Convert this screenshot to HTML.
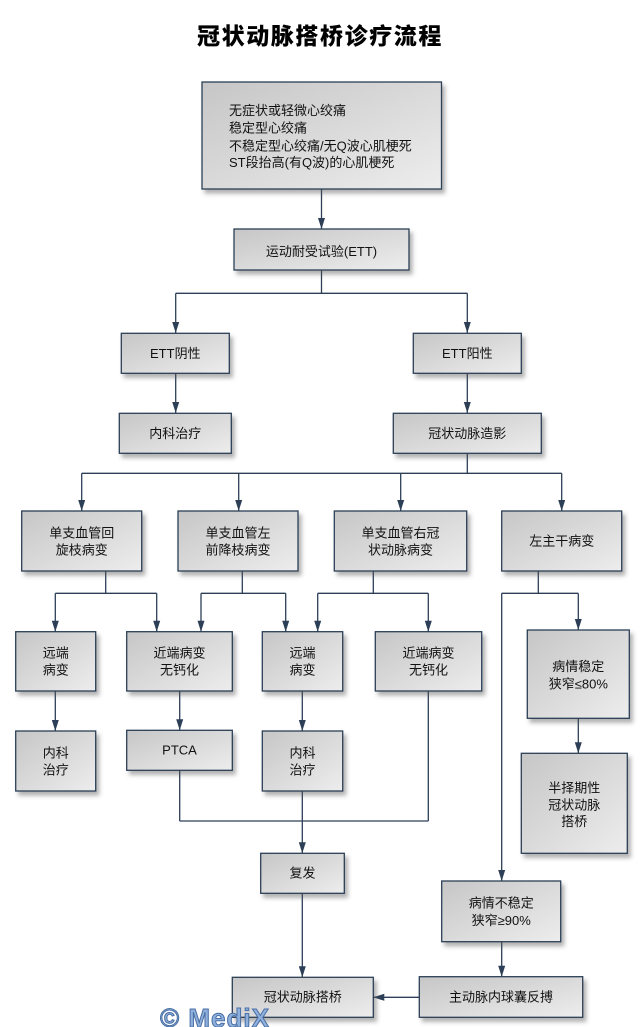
<!DOCTYPE html>
<html><head><meta charset="utf-8">
<style>
html,body{margin:0;padding:0;background:#fff;}
svg{display:block;}
.t{font-family:"Liberation Sans","Noto Sans CJK SC",sans-serif;font-size:13px;fill:#111;}
.c{text-anchor:middle;}
</style></head>
<body>
<svg width="642" height="1027" viewBox="0 0 642 1027" xmlns="http://www.w3.org/2000/svg">
<defs>
<linearGradient id="g" x1="0" y1="0" x2="1" y2="1">
<stop offset="0" stop-color="#c6c6c6"/>
<stop offset="1" stop-color="#ededed"/>
</linearGradient>
<filter id="sh" x="-10%" y="-10%" width="130%" height="140%">
<feDropShadow dx="3" dy="4" stdDeviation="2" flood-color="#555" flood-opacity="0.45"/>
</filter>
</defs>

<text x="320" y="44" text-anchor="middle" style="font-family:'Noto Sans CJK SC','WenQuanYi Zen Hei',sans-serif;font-size:23px;font-weight:900;letter-spacing:1.6px;fill:#000;">冠状动脉搭桥诊疗流程</text>

<g stroke="#2c3f57" stroke-width="1.3" fill="none">
<line x1="321.5" y1="189" x2="321.5" y2="229"/>
<line x1="321.5" y1="270" x2="321.5" y2="293.3"/>
<line x1="175.7" y1="293.3" x2="467.3" y2="293.3"/>
<line x1="175.7" y1="293.3" x2="175.7" y2="333"/>
<line x1="467.3" y1="293.3" x2="467.3" y2="333"/>
<line x1="175.7" y1="373" x2="175.7" y2="413"/>
<line x1="467.3" y1="373" x2="467.3" y2="413"/>
<line x1="467.3" y1="453" x2="467.3" y2="473.3"/>
<line x1="81.7" y1="473.3" x2="561.7" y2="473.3"/>
<line x1="81.7" y1="473.3" x2="81.7" y2="511"/>
<line x1="238.7" y1="473.3" x2="238.7" y2="511"/>
<line x1="400.7" y1="473.3" x2="400.7" y2="511"/>
<line x1="561.7" y1="473.3" x2="561.7" y2="511"/>
<line x1="105.7" y1="571" x2="105.7" y2="593.3"/>
<line x1="55.3" y1="593.3" x2="156.7" y2="593.3"/>
<line x1="55.3" y1="593.3" x2="55.3" y2="631.7"/>
<line x1="156.7" y1="593.3" x2="156.7" y2="631.7"/>
<line x1="242.3" y1="571" x2="242.3" y2="593.3"/>
<line x1="201" y1="593.3" x2="285.7" y2="593.3"/>
<line x1="201" y1="593.3" x2="201" y2="631.7"/>
<line x1="285.7" y1="593.3" x2="285.7" y2="631.7"/>
<line x1="373.3" y1="571" x2="373.3" y2="593.3"/>
<line x1="317.7" y1="593.3" x2="428.3" y2="593.3"/>
<line x1="317.7" y1="593.3" x2="317.7" y2="631.7"/>
<line x1="428.3" y1="593.3" x2="428.3" y2="631.7"/>
<line x1="538.3" y1="571" x2="538.3" y2="593.3"/>
<line x1="501.7" y1="593.3" x2="578.3" y2="593.3"/>
<line x1="578.3" y1="593.3" x2="578.3" y2="630"/>
<line x1="501.7" y1="593.3" x2="501.7" y2="881"/>
<line x1="55.3" y1="691" x2="55.3" y2="731"/>
<line x1="179.7" y1="691" x2="179.7" y2="730.3"/>
<line x1="302.3" y1="691" x2="302.3" y2="731"/>
<line x1="179.7" y1="770" x2="179.7" y2="821"/>
<line x1="179.7" y1="821" x2="428.3" y2="821"/>
<line x1="428.3" y1="691" x2="428.3" y2="821"/>
<line x1="302.3" y1="791" x2="302.3" y2="853.3"/>
<line x1="302.3" y1="893.3" x2="302.3" y2="977.3"/>
<line x1="578.3" y1="718.3" x2="578.3" y2="753.3"/>
<line x1="501.7" y1="941.7" x2="501.7" y2="976.7"/>
<line x1="419.3" y1="997.3" x2="373.3" y2="997.3"/>
</g>

<g fill="#2c3f57">
<polygon points="318,218 325,218 321.5,229"/>
<polygon points="172.2,322 179.2,322 175.7,333"/>
<polygon points="463.8,322 470.8,322 467.3,333"/>
<polygon points="172.2,402 179.2,402 175.7,413"/>
<polygon points="463.8,402 470.8,402 467.3,413"/>
<polygon points="78.2,500 85.2,500 81.7,511"/>
<polygon points="235.2,500 242.2,500 238.7,511"/>
<polygon points="397.2,500 404.2,500 400.7,511"/>
<polygon points="558.2,500 565.2,500 561.7,511"/>
<polygon points="51.8,620.7 58.8,620.7 55.3,631.7"/>
<polygon points="153.2,620.7 160.2,620.7 156.7,631.7"/>
<polygon points="197.5,620.7 204.5,620.7 201,631.7"/>
<polygon points="282.2,620.7 289.2,620.7 285.7,631.7"/>
<polygon points="314.2,620.7 321.2,620.7 317.7,631.7"/>
<polygon points="424.8,620.7 431.8,620.7 428.3,631.7"/>
<polygon points="574.8,619 581.8,619 578.3,630"/>
<polygon points="51.8,720 58.8,720 55.3,731"/>
<polygon points="176.2,719.3 183.2,719.3 179.7,730.3"/>
<polygon points="298.8,720 305.8,720 302.3,731"/>
<polygon points="298.8,842.3 305.8,842.3 302.3,853.3"/>
<polygon points="298.8,966.3 305.8,966.3 302.3,977.3"/>
<polygon points="574.8,742.3 581.8,742.3 578.3,753.3"/>
<polygon points="498.2,870 505.2,870 501.7,881"/>
<polygon points="498.2,965.7 505.2,965.7 501.7,976.7"/>
<polygon points="384.3,993.8 384.3,1000.8 373.3,997.3"/>
</g>

<g fill="url(#g)" stroke="#2c3f57" stroke-width="1.3" filter="url(#sh)">
<rect x="202" y="82" width="239.5" height="107"/>
<rect x="234" y="229" width="175" height="41"/>
<rect x="121.3" y="333.3" width="108" height="40"/>
<rect x="413.3" y="333.3" width="108" height="40"/>
<rect x="119.3" y="413.3" width="112" height="40"/>
<rect x="393.3" y="413.3" width="148" height="40"/>
<rect x="21.7" y="511" width="120" height="60"/>
<rect x="178" y="511" width="120" height="60"/>
<rect x="334.3" y="511" width="132.4" height="60"/>
<rect x="501.7" y="511" width="120" height="60"/>
<rect x="15.7" y="631.7" width="80" height="59.3"/>
<rect x="126.7" y="631.7" width="105.6" height="59.3"/>
<rect x="262.3" y="631.7" width="80.4" height="59.3"/>
<rect x="375.3" y="631.7" width="106.4" height="59.3"/>
<rect x="527.3" y="630" width="102" height="88.3"/>
<rect x="15.7" y="731" width="80" height="60"/>
<rect x="126.7" y="730.3" width="105.6" height="40"/>
<rect x="262.3" y="731" width="80.4" height="60"/>
<rect x="521.3" y="753.3" width="106" height="100"/>
<rect x="260.7" y="853.3" width="83.6" height="40"/>
<rect x="441.7" y="881" width="119" height="60.7"/>
<rect x="232.3" y="977.3" width="141" height="40"/>
<rect x="419.3" y="976.7" width="163.4" height="40.6"/>
</g>

<g class="t">
<text x="229" y="115">无症状或轻微心绞痛</text>
<text x="229" y="132.5">稳定型心绞痛</text>
<text x="229" y="150.5">不稳定型心绞痛/无Q波心肌梗死</text>
<text x="229" y="167">ST段抬高(有Q波)的心肌梗死</text>
</g>
<g class="t c">
<text x="321.5" y="256">运动耐受试验(ETT)</text>
<text x="175.3" y="358">ETT阴性</text>
<text x="467.3" y="358">ETT阳性</text>
<text x="175.3" y="438">内科治疗</text>
<text x="467.3" y="438">冠状动脉造影</text>

<text x="81.7" y="537.5">单支血管回</text>
<text x="81.7" y="554.5">旋枝病变</text>
<text x="238" y="537.5">单支血管左</text>
<text x="238" y="554.5">前降枝病变</text>
<text x="400.5" y="537.5">单支血管右冠</text>
<text x="400.5" y="554.5">状动脉病变</text>
<text x="561.7" y="545.5">左主干病变</text>

<text x="55.7" y="657.5">远端</text>
<text x="55.7" y="674.5">病变</text>
<text x="179.5" y="657.5">近端病变</text>
<text x="179.5" y="674.5">无钙化</text>
<text x="302.5" y="657.5">远端</text>
<text x="302.5" y="674.5">病变</text>
<text x="428.5" y="657.5">近端病变</text>
<text x="428.5" y="674.5">无钙化</text>
<text x="578.3" y="671">病情稳定</text>
<text x="578.3" y="688.5">狭窄≤80%</text>

<text x="55.7" y="757.5">内科</text>
<text x="55.7" y="774.5">治疗</text>
<text x="179.5" y="754.5">PTCA</text>
<text x="302.5" y="757.5">内科</text>
<text x="302.5" y="774.5">治疗</text>
<text x="574.3" y="792.5">半择期性</text>
<text x="574.3" y="809.5">冠状动脉</text>
<text x="574.3" y="826">搭桥</text>

<text x="302.5" y="877.5">复发</text>
<text x="501.2" y="907.5">病情不稳定</text>
<text x="501.2" y="925">狭窄≥90%</text>
<text x="302.8" y="1001.5">冠状动脉搭桥</text>
<text x="501" y="1001.5">主动脉内球囊反搏</text>
</g>

<text x="160" y="1027" style="font-family:'Liberation Sans',sans-serif;font-size:26px;font-weight:bold;letter-spacing:1px;fill:#8fb0dc;stroke:#4a6fa5;stroke-width:1;">© MediX</text>
</svg>
</body></html>
